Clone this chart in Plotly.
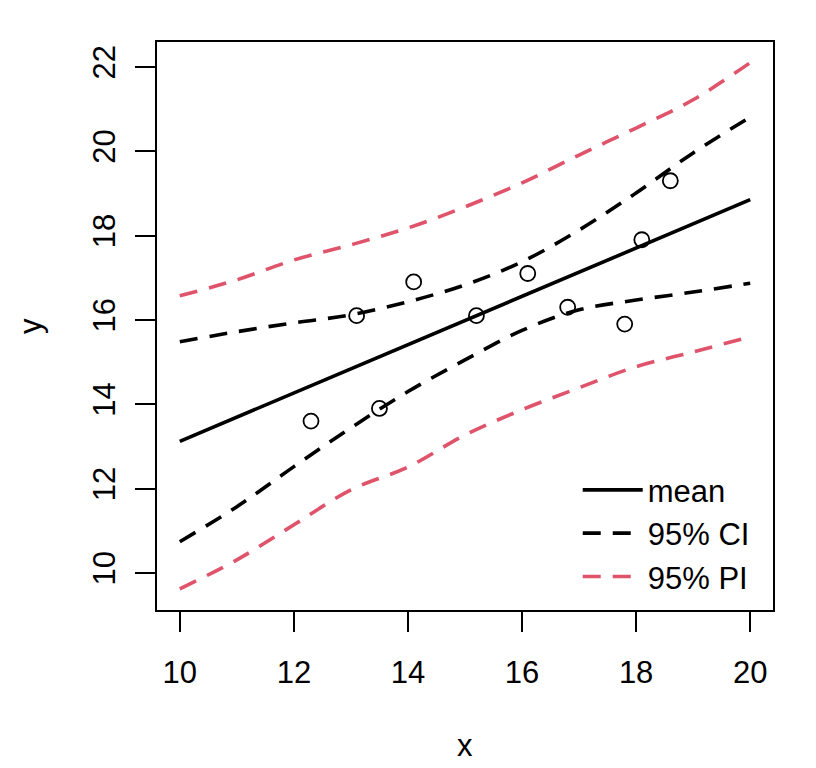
import plotly.graph_objects as go

# observed points
obs_x = [12.3, 13.1, 13.5, 14.1, 15.2, 16.1, 16.8, 17.8, 18.1, 18.6]
obs_y = [13.6, 16.1, 13.9, 16.9, 16.1, 17.1, 16.3, 15.9, 17.9, 19.3]

# fitted mean line
mean_x = [10, 20]
mean_y = [13.12, 18.85]

# interval curves read at x = 10..20
grid_x = [10, 11, 12, 13, 14, 15, 16, 17, 18, 19, 20]
ci_upper = [15.48, 15.72, 15.93, 16.12, 16.43, 16.83, 17.38, 18.13, 19.01, 19.96, 20.81]
ci_lower = [10.74, 11.57, 12.52, 13.44, 14.30, 15.05, 15.75, 16.24, 16.47, 16.66, 16.87]
pi_upper = [16.57, 16.95, 17.42, 17.78, 18.18, 18.68, 19.25, 19.91, 20.55, 21.22, 22.10]
pi_lower = [9.62, 10.31, 11.14, 11.97, 12.51, 13.27, 13.87, 14.39, 14.89, 15.24, 15.60]

x_ticks = [10, 12, 14, 16, 18, 20]
y_ticks = [10, 12, 14, 16, 18, 20, 22]

RED = "#DF536B"
FONT = "Liberation Sans, Arial, sans-serif"
FS = 31
dash = "18px,12px"
LW = 3.6

fig = go.Figure()
fig.add_trace(go.Scatter(
    x=obs_x, y=obs_y, mode="markers", showlegend=False,
    marker=dict(symbol="circle-open", size=15, color="black", line=dict(width=1.8))
))
fig.add_trace(go.Scatter(
    x=mean_x, y=mean_y, mode="lines", name="mean",
    line=dict(color="black", width=LW)
))
fig.add_trace(go.Scatter(
    x=grid_x, y=ci_upper, mode="lines", name="95% CI", legendgroup="ci",
    line=dict(color="black", width=LW, dash=dash, shape="spline")
))
fig.add_trace(go.Scatter(
    x=grid_x, y=ci_lower, mode="lines", name="95% CI", legendgroup="ci", showlegend=False,
    line=dict(color="black", width=LW, dash=dash, shape="spline")
))
fig.add_trace(go.Scatter(
    x=grid_x, y=pi_upper, mode="lines", name="95% PI", legendgroup="pi",
    line=dict(color=RED, width=LW, dash=dash, shape="spline")
))
fig.add_trace(go.Scatter(
    x=grid_x, y=pi_lower, mode="lines", name="95% PI", legendgroup="pi", showlegend=False,
    line=dict(color=RED, width=LW, dash=dash, shape="spline")
))

axis_common = dict(
    showgrid=False, zeroline=False, showline=True, mirror=True,
    linecolor="black", linewidth=1.5,
    ticks="outside", ticklen=20, tickwidth=1.5, tickcolor="black",
    tickfont=dict(family=FONT, size=FS, color="black"),
)

fig.update_layout(
    width=816, height=768,
    paper_bgcolor="white", plot_bgcolor="white",
    font=dict(family=FONT, size=FS, color="black"),
    margin=dict(l=149, r=51, t=34, b=166),
    xaxis=dict(range=[9.6, 20.4], tickvals=x_ticks, ticklabelstandoff=14, **axis_common),
    yaxis=dict(range=[9.12, 22.59], tickvals=y_ticks, tickangle=-90, ticklabelstandoff=8, **axis_common),
    legend=dict(
        x=0.683, y=0.012, xanchor="left", yanchor="bottom",
        bgcolor="rgba(0,0,0,0)", font=dict(family=FONT, size=FS),
        itemwidth=60, tracegroupgap=0
    ),
    annotations=[
        dict(text="x", xref="paper", yref="paper", x=0.5, y=-0.2377,
             xanchor="center", yanchor="middle",
             showarrow=False, font=dict(family=FONT, size=FS)),
        dict(text="y", xref="paper", yref="paper", x=-0.206, y=0.5, textangle=-90,
             xanchor="center", yanchor="middle",
             showarrow=False, font=dict(family=FONT, size=FS)),
    ],
)

fig.write_html("out.html")
